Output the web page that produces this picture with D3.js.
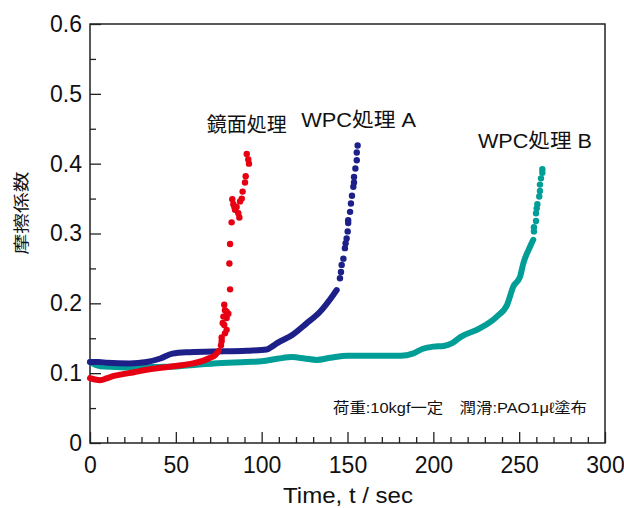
<!DOCTYPE html>
<html><head><meta charset="utf-8">
<script src="https://cdn.jsdelivr.net/npm/d3@7"></script>
<style>
body{margin:0;background:#fff;}
text{font-family:"Liberation Sans","Noto Sans CJK JP",sans-serif;}
.jp{font-family:"Noto Sans CJK JP","Liberation Sans",sans-serif;}
</style></head>
<body>
<svg id="c" width="624" height="508"></svg>
<script>
// ---- data ----
const xTicks = [0, 50, 100, 150, 200, 250, 300];
const yTicks = [0, 0.1, 0.2, 0.3, 0.4, 0.5, 0.6];
const seriesNames = ["鏡面処理", "WPC処理 A", "WPC処理 B"];
const seriesColors = ["#e60012", "#1d2088", "#009e96"];

const mirrorLine = [[0,0.093],[3,0.091],[6,0.090],[10,0.093],[14,0.096],[20,0.099],[25,0.101],[33,0.105],[43,0.108],[52,0.111],[60,0.114],[66,0.118],[70,0.122],[73,0.126],[75,0.132]];
const mirrorDots = [[76.3,0.140],[76.7,0.146],[76.7,0.151],[78.6,0.157],[79.6,0.162],[78.2,0.169],[77.3,0.172],[79.6,0.179],[77.7,0.181],[80.6,0.185],[79.6,0.188],[78.6,0.190],[78.2,0.198],[81.6,0.220],[81.2,0.257],[81.6,0.285],[82.5,0.316],[87,0.323],[86.4,0.329],[84.5,0.334],[85.4,0.338],[84.1,0.338],[83.5,0.342],[87.4,0.346],[82.9,0.349],[88.4,0.350],[88.9,0.360],[90.3,0.373],[90.7,0.382],[92.6,0.400],[92.2,0.406],[91.3,0.414]];

const wpcALine = [[0,0.116],[5,0.116],[10,0.115],[23,0.114],[33,0.116],[41,0.121],[48,0.128],[56,0.130],[72,0.131],[91,0.132],[103,0.134],[106,0.138],[109,0.143],[118,0.155],[126,0.171],[134,0.188],[141.7,0.212],[143.7,0.219]];
const wpcADots = [[145.6,0.236],[146.2,0.245],[146.6,0.255],[147.6,0.264],[148.5,0.279],[148.9,0.286],[149.5,0.293],[150.1,0.303],[150.4,0.315],[150.4,0.319],[151.5,0.331],[152,0.343],[152.6,0.354],[153.4,0.367],[153.8,0.373],[153.8,0.381],[154.6,0.393],[155.4,0.405],[155.4,0.416],[155.9,0.426]];

const wpcBLine = [[0,0.116],[3,0.112],[6,0.110],[15,0.109],[23,0.108],[40,0.109],[52,0.110],[62,0.112],[72,0.114],[91,0.116],[100,0.117],[110,0.121],[118,0.123],[125,0.121],[132,0.119],[140,0.122],[150,0.125],[169,0.125],[181,0.125],[188,0.128],[194,0.135],[200,0.138],[206,0.139],[211,0.143],[216,0.152],[227,0.164],[237,0.181],[243,0.198],[246.6,0.224],[250.5,0.238],[252.4,0.257],[256.3,0.281],[258.2,0.291]];
const wpcBDots = [[258.6,0.303],[258.6,0.309],[259.8,0.318],[259.8,0.329],[260.2,0.336],[260.6,0.342],[261.7,0.353],[262.1,0.361],[262.1,0.370],[262.7,0.379],[263.5,0.387],[263.5,0.392]];

const labelPos = [[68, 0.446], [123, 0.452], [226, 0.422]];
const note = "荷重:10kgf一定　潤滑:PAO1μℓ塗布";

// ---- chart ----
const svg = d3.select("#c");
const L = 90, R = 605, T = 24, B = 443;
const x = d3.scaleLinear().domain([0, 300]).range([L, R]);
const y = d3.scaleLinear().domain([0, 0.6]).range([B, T]);

// frame
svg.append("rect").attr("x", L).attr("y", T).attr("width", R - L).attr("height", B - T)
  .attr("fill", "none").attr("stroke", "#222").attr("stroke-width", 1.5);

// ticks
const xAxis = svg.append("g").attr("transform", `translate(0,${B})`)
  .call(d3.axisBottom(x).tickValues(d3.range(0, 301, 10)).tickSizeInner(0).tickSizeOuter(0).tickFormat(""));
xAxis.select(".domain").remove();
xAxis.selectAll(".tick line").attr("y2", d => d % 50 === 0 ? -11 : -6).attr("stroke", "#222").attr("stroke-width", 1.3);
const xLab = svg.append("g").attr("transform", `translate(0,${B})`)
  .call(d3.axisBottom(x).tickValues(xTicks).tickSize(0).tickPadding(14).tickFormat(d3.format("d")));
xLab.select(".domain").remove();
xLab.selectAll("text").attr("font-size", 23).attr("fill", "#111").attr("font-family", "Liberation Sans");

const yAxis = svg.append("g").attr("transform", `translate(${L},0)`)
  .call(d3.axisLeft(y).tickValues(d3.range(0, 0.601, 0.05)).tickSizeInner(0).tickSizeOuter(0).tickFormat(""));
yAxis.select(".domain").remove();
yAxis.selectAll(".tick line").attr("x2", (d, i) => i % 2 === 0 ? 11 : 6).attr("stroke", "#222").attr("stroke-width", 1.3);
const yLab = svg.append("g").attr("transform", `translate(${L},0)`)
  .call(d3.axisLeft(y).tickValues(yTicks).tickSize(0).tickPadding(8).tickFormat(d => d === 0 ? "0" : d3.format(".1f")(d)));
yLab.select(".domain").remove();
yLab.selectAll("text").attr("font-size", 23).attr("fill", "#111").attr("font-family", "Liberation Sans");

// axis titles
svg.append("text").attr("x", 283).attr("y", 503)
  .attr("font-size", 22).attr("textLength", 130).attr("lengthAdjust", "spacingAndGlyphs")
  .attr("fill", "#111").text("Time, t / sec");
svg.append("text").attr("class", "jp").attr("transform", `translate(27,213) rotate(-90)`)
  .attr("text-anchor", "middle").attr("font-size", 16).attr("textLength", 83).attr("lengthAdjust", "spacingAndGlyphs")
  .attr("fill", "#111").text("摩擦係数");

// series
const line = d3.line().x(d => x(d[0])).y(d => y(d[1])).curve(d3.curveMonotoneX);
const lines = [mirrorLine, wpcALine, wpcBLine];
const dots = [mirrorDots, wpcADots, wpcBDots];
[2, 1, 0].forEach(i => {
  svg.append("path").datum(lines[i]).attr("d", line).attr("fill", "none")
    .attr("stroke", seriesColors[i]).attr("stroke-width", 6).attr("stroke-linecap", "round").attr("stroke-linejoin", "round");
  svg.append("g").selectAll("circle").data(dots[i]).join("circle")
    .attr("cx", d => x(d[0])).attr("cy", d => y(d[1])).attr("r", 3.2).attr("fill", seriesColors[i]);
});

// series labels
const labelWidths = [80, 115, 114];
seriesNames.forEach((n, i) => {
  svg.append("text").attr("x", x(labelPos[i][0])).attr("y", y(labelPos[i][1]))
    .attr("font-size", 20).attr("textLength", labelWidths[i]).attr("lengthAdjust", "spacingAndGlyphs")
    .attr("fill", "#111").text(n);
});

// note
svg.append("text").attr("x", 333).attr("y", 413).attr("font-size", 15)
  .attr("textLength", 254).attr("lengthAdjust", "spacingAndGlyphs")
  .attr("fill", "#111").text(note);
</script>
</body></html>
